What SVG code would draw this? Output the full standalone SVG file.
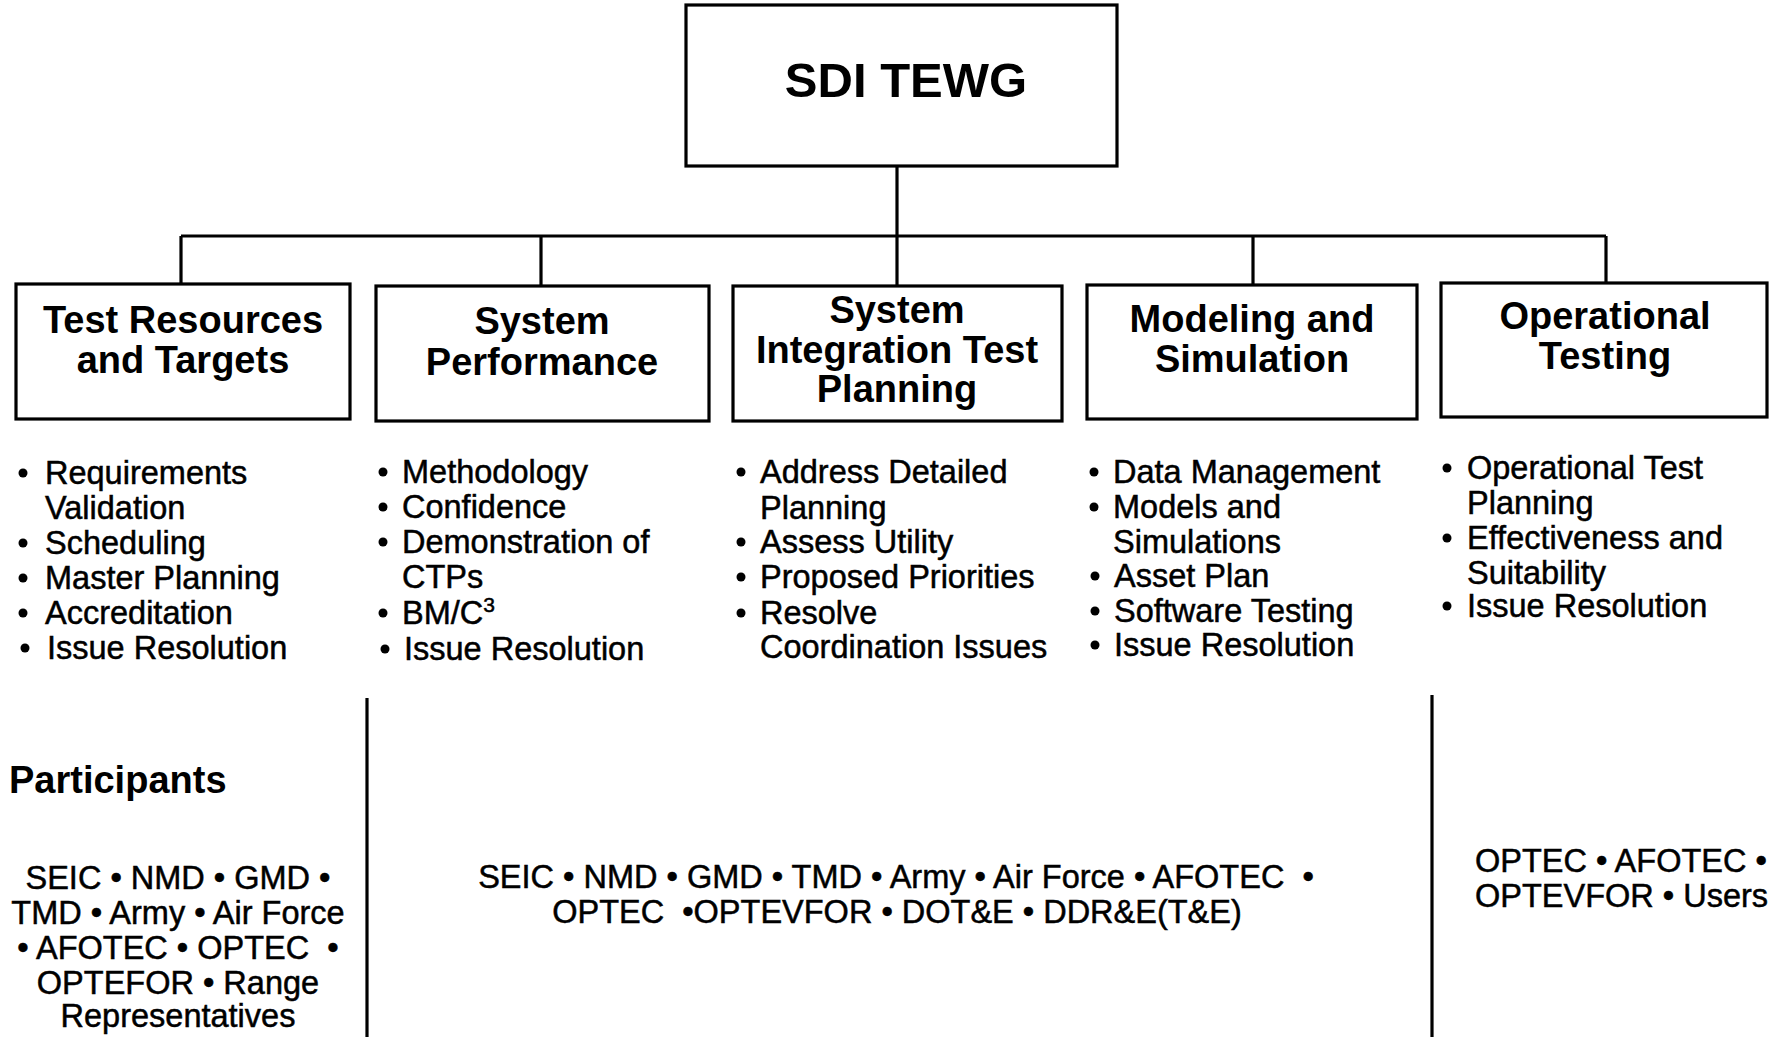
<svg xmlns="http://www.w3.org/2000/svg" width="1769" height="1037" viewBox="0 0 1769 1037">
<style>
.box{fill:#fff;stroke:#000;stroke-width:3.2}
.ln{stroke:#000;stroke-width:3.2;fill:none}
.top{font-family:"Liberation Sans",Arial,sans-serif;font-weight:bold;font-size:49px;text-anchor:middle;fill:#000}
.ttl{font-family:"Liberation Sans",Arial,sans-serif;font-weight:bold;font-size:38px;text-anchor:middle;fill:#000}
.it{font-family:"Liberation Sans",Arial,sans-serif;font-size:32.5px;fill:#000;stroke:#000;stroke-width:0.5}
.bu{fill:#000}
.pc{font-family:"Liberation Sans",Arial,sans-serif;font-size:32.5px;text-anchor:middle;fill:#000;stroke:#000;stroke-width:0.5}
.hd{font-family:"Liberation Sans",Arial,sans-serif;font-weight:bold;font-size:38px;fill:#000}
</style>
<rect width="1769" height="1037" fill="#fff"/>
<g id="connectors">
<line class="ln" x1="897" y1="166" x2="897" y2="286"/>
<line class="ln" x1="181" y1="236" x2="1606" y2="236"/>
<line class="ln" x1="181" y1="236" x2="181" y2="284"/>
<line class="ln" x1="541" y1="236" x2="541" y2="286"/>
<line class="ln" x1="1253" y1="236" x2="1253" y2="285"/>
<line class="ln" x1="1606" y1="236" x2="1606" y2="283"/>
</g>
<g id="sdi-tewg">
<rect class="box" x="686" y="5" width="431" height="161"/>
<text class="top" x="906" y="97">SDI TEWG</text>
</g>
<g id="test-resources">
<rect class="box" x="16" y="284" width="334" height="135"/>
<text class="ttl" x="183" y="333">Test Resources</text>
<text class="ttl" x="183" y="373">and Targets</text>
</g>
<g id="system-performance">
<rect class="box" x="376" y="286" width="333" height="135"/>
<text class="ttl" x="542" y="334">System</text>
<text class="ttl" x="542" y="375">Performance</text>
</g>
<g id="sitp">
<rect class="box" x="733" y="286" width="329" height="135"/>
<text class="ttl" x="897" y="323">System</text>
<text class="ttl" x="897" y="363">Integration Test</text>
<text class="ttl" x="897" y="402">Planning</text>
</g>
<g id="modeling-simulation">
<rect class="box" x="1087" y="285" width="330" height="134"/>
<text class="ttl" x="1252" y="332">Modeling and</text>
<text class="ttl" x="1252" y="372">Simulation</text>
</g>
<g id="operational-testing">
<rect class="box" x="1441" y="283" width="326" height="134"/>
<text class="ttl" x="1605" y="329">Operational</text>
<text class="ttl" x="1605" y="369">Testing</text>
</g>
<g id="list-test-resources">
<circle class="bu" cx="23" cy="473" r="4.5"/><text class="it" x="45" y="484">Requirements</text>
<text class="it" x="45" y="519">Validation</text>
<circle class="bu" cx="23" cy="543" r="4.5"/><text class="it" x="45" y="554">Scheduling</text>
<circle class="bu" cx="23" cy="578" r="4.5"/><text class="it" x="45" y="589">Master Planning</text>
<circle class="bu" cx="23" cy="613" r="4.5"/><text class="it" x="45" y="624">Accreditation</text>
<circle class="bu" cx="25" cy="648" r="4.5"/><text class="it" x="47" y="659">Issue Resolution</text>
</g>
<g id="list-system-performance">
<circle class="bu" cx="383" cy="472" r="4.5"/><text class="it" x="402" y="483">Methodology</text>
<circle class="bu" cx="383" cy="507" r="4.5"/><text class="it" x="402" y="518">Confidence</text>
<circle class="bu" cx="383" cy="542" r="4.5"/><text class="it" x="402" y="553">Demonstration of</text>
<text class="it" x="402" y="588">CTPs</text>
<circle class="bu" cx="383" cy="613" r="4.5"/><text class="it" x="402" y="624">BM/C<tspan dy="-12" font-size="21">3</tspan></text>
<circle class="bu" cx="385" cy="649" r="4.5"/><text class="it" x="404" y="660">Issue Resolution</text>
</g>
<g id="list-sitp">
<circle class="bu" cx="741" cy="472" r="4.5"/><text class="it" x="760" y="483">Address Detailed</text>
<text class="it" x="760" y="519">Planning</text>
<circle class="bu" cx="741" cy="542" r="4.5"/><text class="it" x="760" y="553">Assess Utility</text>
<circle class="bu" cx="741" cy="577" r="4.5"/><text class="it" x="760" y="588">Proposed Priorities</text>
<circle class="bu" cx="741" cy="613" r="4.5"/><text class="it" x="760" y="624">Resolve</text>
<text class="it" x="760" y="658">Coordination Issues</text>
</g>
<g id="list-modeling-simulation">
<circle class="bu" cx="1094" cy="472" r="4.5"/><text class="it" x="1113" y="483">Data Management</text>
<circle class="bu" cx="1094" cy="507" r="4.5"/><text class="it" x="1113" y="518">Models and</text>
<text class="it" x="1113" y="553">Simulations</text>
<circle class="bu" cx="1095" cy="576" r="4.5"/><text class="it" x="1114" y="587">Asset Plan</text>
<circle class="bu" cx="1095" cy="611" r="4.5"/><text class="it" x="1114" y="622">Software Testing</text>
<circle class="bu" cx="1095" cy="645" r="4.5"/><text class="it" x="1114" y="656">Issue Resolution</text>
</g>
<g id="list-operational-testing">
<circle class="bu" cx="1447" cy="468" r="4.5"/><text class="it" x="1467" y="479">Operational Test</text>
<text class="it" x="1467" y="514">Planning</text>
<circle class="bu" cx="1447" cy="538" r="4.5"/><text class="it" x="1467" y="549">Effectiveness and</text>
<text class="it" x="1467" y="584">Suitability</text>
<circle class="bu" cx="1447" cy="606" r="4.5"/><text class="it" x="1467" y="617">Issue Resolution</text>
</g>
<g id="separators">
<line class="ln" x1="367" y1="698" x2="367" y2="1037"/>
<line class="ln" x1="1432" y1="695" x2="1432" y2="1037"/>
</g>
<g id="participants">
<text class="hd" x="9" y="793">Participants</text>
<text class="pc" x="178" y="889">SEIC • NMD • GMD •</text>
<text class="pc" x="178" y="924">TMD • Army • Air Force</text>
<text class="pc" x="178" y="959" xml:space="preserve">• AFOTEC • OPTEC  •</text>
<text class="pc" x="178" y="994">OPTEFOR • Range</text>
<text class="pc" x="178" y="1027">Representatives</text>
</g>
<g id="participants-middle">
<text class="pc" x="896" y="888" xml:space="preserve">SEIC • NMD • GMD • TMD • Army • Air Force • AFOTEC  •</text>
<text class="pc" x="897" y="923" xml:space="preserve">OPTEC  •OPTEVFOR • DOT&amp;E • DDR&amp;E(T&amp;E)</text>
</g>
<g id="participants-right">
<text class="it" x="1475" y="872">OPTEC • AFOTEC •</text>
<text class="it" x="1475" y="907">OPTEVFOR • Users</text>
</g>
</svg>
